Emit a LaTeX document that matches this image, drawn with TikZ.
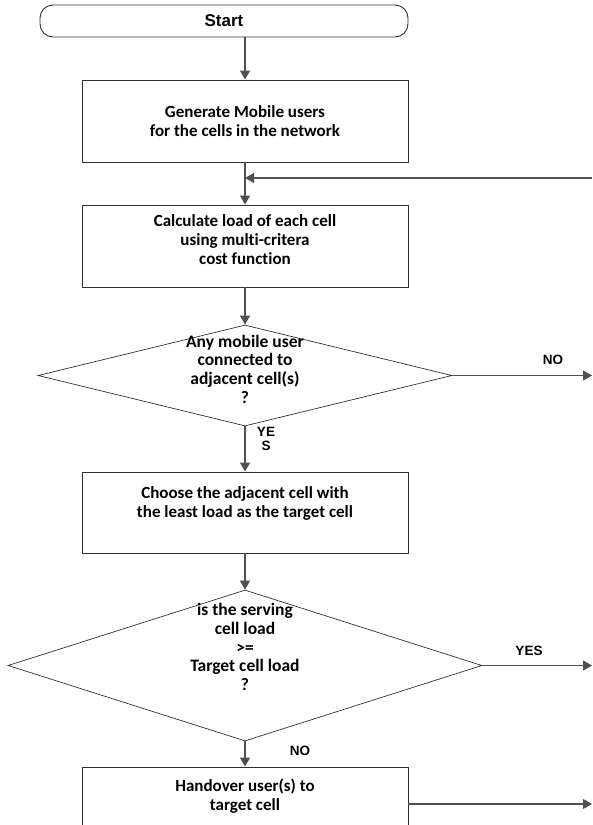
\documentclass[tikz,border=0pt]{standalone}
\usepackage{fontspec}
\setmainfont[Ligatures={NoCommon}]{Carlito}
\newfontfamily\arialfont{Liberation Sans}
\usepackage{tikz}
\usetikzlibrary{arrows.meta,shapes.geometric,positioning,calc}
\definecolor{linegray}{HTML}{505050}
\definecolor{boxgray}{HTML}{303030}
\tikzset{
	procbox/.style={draw=boxgray,line width=0.9pt,minimum width=326pt,minimum height=82pt,inner sep=0pt},
	decbox/.style={draw=boxgray,line width=0.7pt,diamond,inner sep=0pt},
	boxtext/.style={align=center,font=\fontsize{17}{19}\selectfont\bfseries,inner sep=0pt},
	dectext/.style={boxtext,font=\fontsize{17.5}{18.7}\selectfont\bfseries},
	flow/.style={-{Triangle[length=9pt,width=10pt]},line width=1.2pt,draw=linegray},
	yesno/.style={font=\arialfont\fontsize{13.5}{14}\selectfont\bfseries,inner sep=0pt}
}
\begin{document}
\begin{tikzpicture}[x=1pt,y=-1pt]
		\clip (0,0) rectangle (592,825);
		\node[draw=boxgray,line width=0.9pt,rounded corners=13pt,minimum width=368pt,minimum height=32pt,font=\arialfont\fontsize{17}{19}\selectfont\bfseries] (start) at (224,21) {Start};
		\node[procbox] (gen) at (245,121) {};
		\node[boxtext] (gentxt) at (245,121.5) {Generate Mobile users\\for the cells in the network};
		\node[procbox] (calc) at (245,246) {};
		\node[boxtext] (calctxt) at (245,240) {Calculate load of each cell\\using multi-critera\\cost function};
		\node[decbox,minimum width=414pt,minimum height=101pt] (dec1) at (245,375.5) {};
		\node[dectext] (dec1txt) at (245,369) {Any mobile user\\connected to\\adjacent cell(s)\\?};
		\node[procbox,minimum height=81pt] (choose) at (245,512.5) {};
		\node[boxtext] (choosetxt) at (245,503.5) {Choose the adjacent cell with\\the least load as the target cell};
		\node[decbox,minimum width=474pt,minimum height=151pt] (dec2) at (245,665.5) {};
		\node[dectext] (dec2txt) at (245,647) {is the serving\\cell load\\>=\\Target cell load\\?};
		\node[procbox] (hand) at (245,808) {};
		\node[boxtext] (handtxt) at (245,796) {Handover user(s) to\\target cell};
		\coordinate (back) at (592,178);
		\coordinate (noend) at (592,375.5);
		\coordinate (yesend) at (592,665.5);
		\coordinate (handend) at (592,804);
		\draw[flow] (start.south -| gen.north) -- (gen.north);
		\draw[flow] (gen.south) -- (calc.north);
		\draw[flow] (back) -- (back -| gen.south);
		\draw[flow] (calc.south) -- (dec1.north);
		\draw[flow] (dec1.south) -- (choose.north);
		\draw[flow] (dec1.east) -- (noend);
		\draw[flow] (choose.south) -- (dec2.north);
		\draw[flow] (dec2.east) -- (yesend);
		\draw[flow] (dec2.south) -- (hand.north);
		\draw[flow] (handend -| hand.east) -- (handend);
		\node[yesno] (no1) at (553,360) {NO};
		\node[yesno,align=center] (yes1) at (266,439) {YE\\S};
		\node[yesno] (yes2) at (529,651) {YES};
		\node[yesno] (no2) at (300,751) {NO};
	\end{tikzpicture}
\end{document}
